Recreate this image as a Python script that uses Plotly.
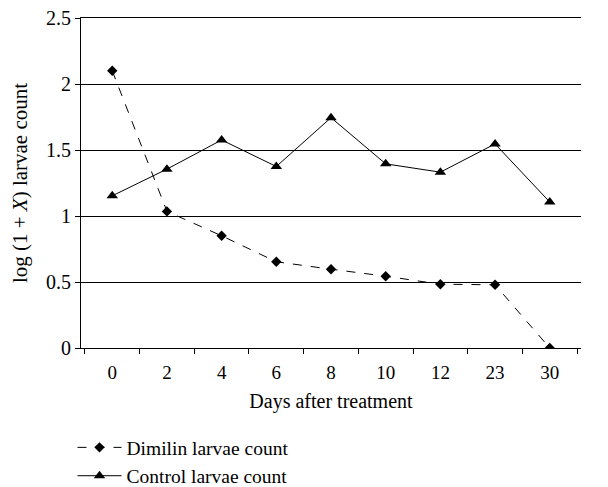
import plotly.graph_objects as go

days = ["0", "2", "4", "6", "8", "10", "12", "23", "30"]
dimilin = [2.10, 1.035, 0.85, 0.653, 0.597, 0.544, 0.483, 0.479, 0.0]
control = [1.153, 1.355, 1.576, 1.375, 1.745, 1.395, 1.332, 1.546, 1.106]
y_ticks = [0, 0.5, 1, 1.5, 2, 2.5]
y_tick_text = ["0", "0.5", "1", "1.5", "2", "2.5"]

FONT = "Liberation Serif"

fig = go.Figure()
fig.add_trace(go.Scatter(
    x=days, y=dimilin, name="Dimilin larvae count", mode="lines+markers",
    line=dict(color="black", width=1, dash="dash"),
    marker=dict(symbol="diamond", size=8, color="black"),
))
fig.add_trace(go.Scatter(
    x=days, y=control, name="Control larvae count", mode="lines+markers",
    line=dict(color="black", width=1),
    marker=dict(symbol="triangle-up", size=10, color="black"),
))

fig.update_layout(
    width=608, height=487,
    margin=dict(l=73, r=35, t=10, b=147, autoexpand=False),
    paper_bgcolor="white", plot_bgcolor="white",
    font=dict(family=FONT, size=18, color="black"),
    showlegend=True,
    legend=dict(x=-0.017, y=-0.243, xanchor="left", yanchor="top",
                bgcolor="rgba(0,0,0,0)",
                font=dict(family=FONT, size=19.5, color="black"),
                tracegroupgap=0, itemwidth=44),
    xaxis=dict(
        type="category", showline=True, mirror=True,
        linecolor="black", linewidth=1,
        ticks="outside", tickson="boundaries", ticklen=5, tickcolor="black",
        showgrid=False, zeroline=False, automargin=False,
        ticklabelstandoff=7, ticklabeloverflow="allow",
        tickfont=dict(family=FONT, size=19, color="black"),
        title=dict(text="Days after treatment", standoff=12,
                   font=dict(family=FONT, size=20, color="black")),
    ),
    yaxis=dict(
        range=[0, 2.5], tickvals=y_ticks, ticktext=y_tick_text,
        showline=True, linecolor="black", linewidth=1,
        ticks="outside", ticklen=5, tickcolor="black",
        showgrid=True, gridcolor="black", gridwidth=1, zeroline=False,
        automargin=False, ticklabeloverflow="allow",
        tickfont=dict(family=FONT, size=20, color="black"),
        title=dict(text="log (1 + <i>X</i>) larvae count", standoff=19,
                   font=dict(family=FONT, size=21, color="black")),
    ),
)

fig.write_html("out.html")
